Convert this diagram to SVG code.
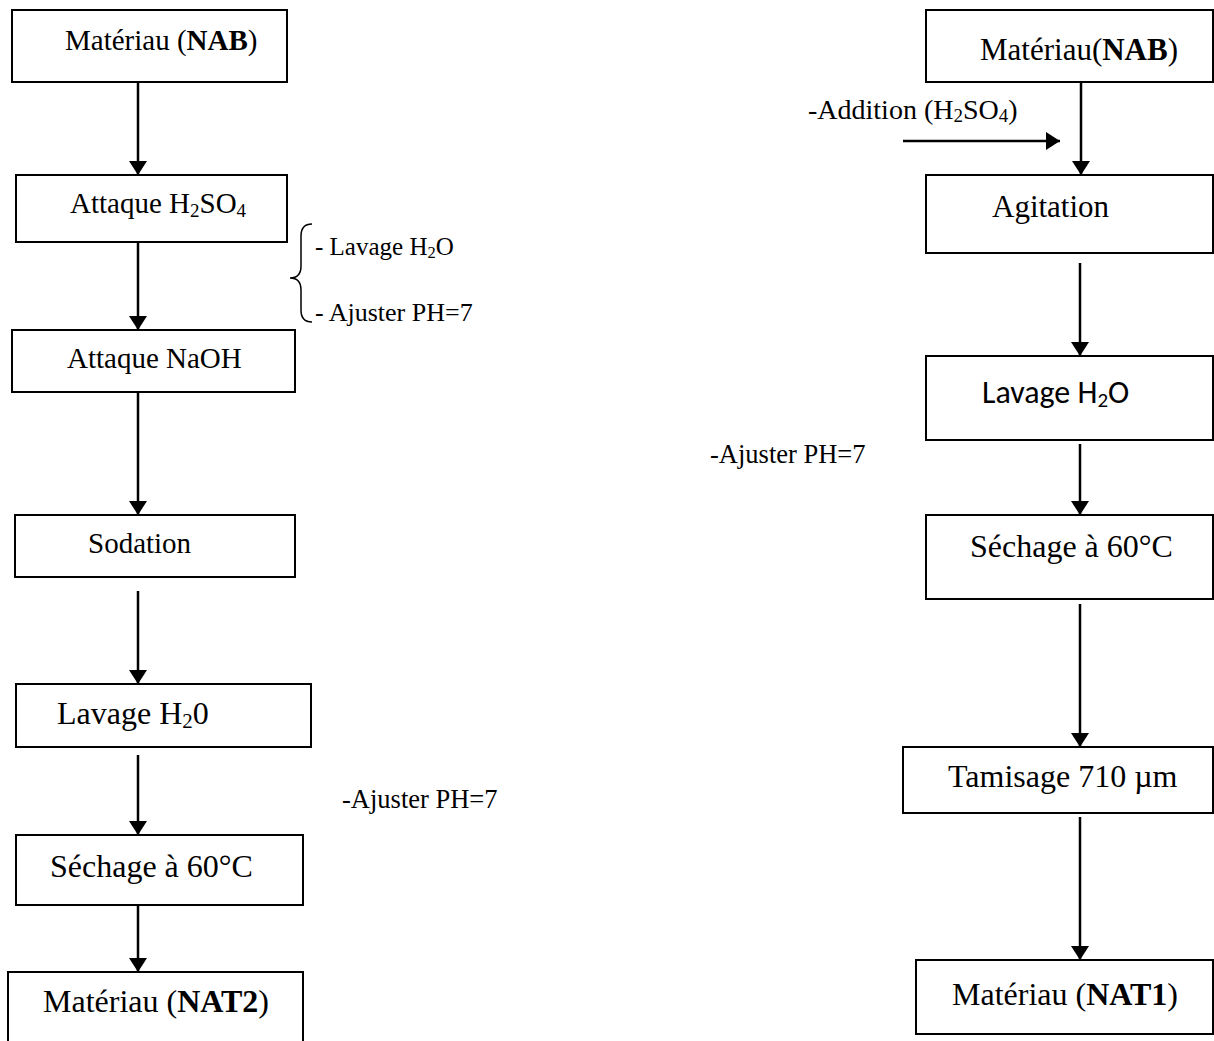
<svg xmlns="http://www.w3.org/2000/svg" width="1214" height="1041" viewBox="0 0 1214 1041">
<defs>
<style>
.box{fill:#fff;stroke:#000;stroke-width:2}
.t{font-family:"Liberation Serif","Times New Roman",serif;fill:#000}
.c{font-family:Carlito,Lato,"Open Sans",sans-serif;fill:#000}
.b{font-weight:bold}
.lbl{font-family:"Liberation Serif","Times New Roman",serif;fill:#000}
.arr{stroke:#000;stroke-width:2.5;fill:none;marker-end:url(#ah)}
.brace{stroke:#000;stroke-width:1.5;fill:none}
</style>
<marker id="ah" viewBox="0 0 14 18" refX="14" refY="9" markerWidth="14" markerHeight="18" markerUnits="userSpaceOnUse" orient="auto">
<path d="M0,0 L14,9 L0,18 z" fill="#000"/>
</marker>
</defs>
<rect width="1214" height="1041" fill="#fff"/>

<g id="connectors">
<line class="arr" x1="138" y1="82" x2="138" y2="175"/>
<line class="arr" x1="138" y1="242" x2="138" y2="330"/>
<line class="arr" x1="138" y1="393" x2="138" y2="515"/>
<line class="arr" x1="138" y1="591" x2="138" y2="684"/>
<line class="arr" x1="138" y1="755" x2="138" y2="835"/>
<line class="arr" x1="138" y1="905" x2="138" y2="972"/>
<line class="arr" x1="1081" y1="82" x2="1081" y2="175"/>
<line class="arr" x1="903" y1="141" x2="1060" y2="141"/>
<line class="arr" x1="1080" y1="263" x2="1080" y2="356"/>
<line class="arr" x1="1080" y1="444" x2="1080" y2="515"/>
<line class="arr" x1="1080" y1="604" x2="1080" y2="747"/>
<line class="arr" x1="1080" y1="817" x2="1080" y2="960"/>
</g>

<g id="n-left-nab">
<rect class="box" x="12" y="10" width="275" height="72"/>
<text class="t" x="65" y="50" font-size="29">Matériau (<tspan class="b">NAB</tspan>)</text>
</g>
<g id="n-attaque-h2so4">
<rect class="box" x="16" y="175" width="271" height="67"/>
<text class="t" x="70" y="213" font-size="29">Attaque H<tspan font-size="19" dy="4">2</tspan><tspan dy="-4">SO</tspan><tspan font-size="19" dy="4">4</tspan></text>
</g>
<g id="n-attaque-naoh">
<rect class="box" x="12" y="330" width="283" height="62"/>
<text class="t" x="67" y="368" font-size="29">Attaque NaOH</text>
</g>
<g id="n-sodation">
<rect class="box" x="15" y="515" width="280" height="62"/>
<text class="t" x="88" y="553" font-size="29">Sodation</text>
</g>
<g id="n-lavage-left">
<rect class="box" x="16" y="684" width="295" height="63"/>
<text class="t" x="57" y="724" font-size="32">Lavage H<tspan font-size="21" dy="4">2</tspan><tspan dy="-4">0</tspan></text>
</g>
<g id="n-sechage-left">
<rect class="box" x="16" y="835" width="287" height="70"/>
<text class="t" x="50" y="877" font-size="32">Séchage à 60°C</text>
</g>
<g id="n-nat2">
<rect class="box" x="8" y="972" width="295" height="80"/>
<text class="t" x="43" y="1012" font-size="32">Matériau (<tspan class="b">NAT2</tspan>)</text>
</g>

<g id="brace-labels">
<path class="brace" d="M312,224 Q301,224 301,236 L301,266 Q301,278 290,278 Q301,278 301,290 L301,310 Q301,322 312,322"/>
<text class="lbl" x="315" y="255" font-size="25">- Lavage H<tspan font-size="16.5" dy="3">2</tspan><tspan dy="-3">O</tspan></text>
<text class="lbl" x="315" y="321" font-size="26">- Ajuster PH=7</text>
</g>
<g id="label-ajuster-left">
<text class="lbl" x="342" y="808" font-size="26.5">-Ajuster PH=7</text>
</g>

<g id="n-right-nab">
<rect class="box" x="926" y="10" width="287" height="72"/>
<text class="t" x="980" y="60" font-size="31">Matériau(<tspan class="b">NAB</tspan>)</text>
</g>
<g id="label-addition">
<text class="lbl" x="808" y="119" font-size="28">-Addition (H<tspan font-size="19" dy="3">2</tspan><tspan dy="-3">SO</tspan><tspan font-size="19" dy="3">4</tspan><tspan dy="-3">)</tspan></text>
</g>
<g id="n-agitation">
<rect class="box" x="926" y="175" width="287" height="78"/>
<text class="t" x="992" y="217" font-size="31">Agitation</text>
</g>
<g id="n-lavage-right">
<rect class="box" x="926" y="356" width="287" height="84"/>
<text class="c" x="982" y="403" font-size="32">Lavage H<tspan font-size="21" dy="4">2</tspan><tspan dy="-4">O</tspan></text>
</g>
<g id="label-ajuster-right">
<text class="lbl" x="710" y="463" font-size="26.5">-Ajuster PH=7</text>
</g>
<g id="n-sechage-right">
<rect class="box" x="926" y="515" width="287" height="84"/>
<text class="t" x="970" y="557" font-size="32">Séchage à 60°C</text>
</g>
<g id="n-tamisage">
<rect class="box" x="903" y="747" width="310" height="66"/>
<text class="t" x="948" y="787" font-size="32">Tamisage 710 µm</text>
</g>
<g id="n-nat1">
<rect class="box" x="916" y="960" width="297" height="74"/>
<text class="t" x="952" y="1005" font-size="32">Matériau (<tspan class="b">NAT1</tspan>)</text>
</g>
</svg>
